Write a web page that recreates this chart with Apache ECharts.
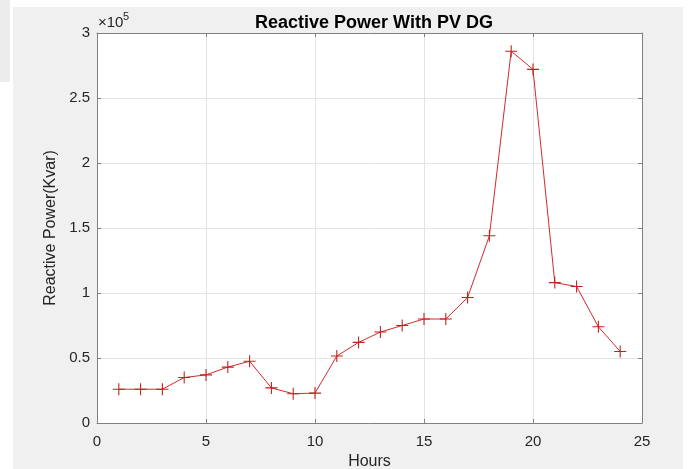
<!DOCTYPE html>
<html>
<head>
<meta charset="utf-8">
<script src="https://cdn.jsdelivr.net/npm/echarts@6/dist/echarts.min.js"></script>
<style>
html,body{margin:0;padding:0;background:#fff;}
#chart{width:691px;height:469px;}
</style>
</head>
<body>
<div id="chart"></div>
<script>
// Data
const hours = [1,2,3,4,5,6,7,8,9,10,11,12,13,14,15,16,17,18,19,20,21,22,23,24];
const reactivePower = [26000,26000,26000,35000,37000,43000,47500,27000,22500,23000,51500,62000,70000,75000,80000,80000,96500,144000,286000,272000,108000,105000,74000,55000];
const xTicks = [0,5,10,15,20,25];
const yTickLabels = ['0','0.5','1','1.5','2','2.5','3'];

const chart = echarts.init(document.getElementById('chart'));
const axisColor = '#808080';
const textColor = '#262626';
const fontFamily = 'Liberation Sans, Arial, sans-serif';
const plusPath = 'path://M-0.45,-5 L0.45,-5 L0.45,-0.45 L5,-0.45 L5,0.45 L0.45,0.45 L0.45,5 L-0.45,5 L-0.45,0.45 L-5,0.45 L-5,-0.45 L-0.45,-0.45 Z';

const option = {
  backgroundColor: '#fff',
  animation: false,
  graphic: [
    {type:'rect', z:-10, shape:{x:13,y:7,width:670,height:462}, style:{fill:'#f0f0f0'}},
    {type:'rect', z:-10, shape:{x:0,y:0,width:10,height:82}, style:{fill:'#ececec'}},
    {type:'text', x:98, y:30, style:{text:'\u00d710', fontSize:15, fontFamily:fontFamily, fill:textColor, textVerticalAlign:'bottom'}},
    {type:'text', x:123, y:22, style:{text:'5', fontSize:11, fontFamily:fontFamily, fill:textColor, textVerticalAlign:'bottom'}}
  ],
  title: {
    text: 'Reactive Power With PV DG',
    left: 369, top: 9, textAlign: 'center',
    textStyle: {fontSize: 18, fontWeight: 'bold', color: '#000', fontFamily: fontFamily}
  },
  grid: {left: 97, top: 33, right: 49, bottom: 46, show: true, backgroundColor: '#fff', borderWidth: 0,
    containLabel: false, outerBoundsMode: 'none'},
  xAxis: [
    {
      type: 'value', min: xTicks[0], max: xTicks[xTicks.length-1], interval: 5, position: 'bottom',
      name: 'Hours', nameLocation: 'middle', nameGap: 31,
      nameTextStyle: {fontSize: 16, color: textColor, fontFamily: fontFamily},
      axisLine: {show: true, onZero: false, lineStyle: {color: axisColor, width: 1}},
      axisTick: {show: true, inside: true, length: 4, lineStyle: {color: axisColor}},
      axisLabel: {fontSize: 15, color: textColor, margin: 11, fontFamily: fontFamily},
      splitLine: {show: true, lineStyle: {color: '#e3e3e3', width: 1}}
    },
    {
      type: 'value', min: 0, max: 25, interval: 5, position: 'top',
      axisLine: {show: true, onZero: false, lineStyle: {color: axisColor, width: 1}},
      axisTick: {show: true, inside: true, length: 4, lineStyle: {color: axisColor}},
      axisLabel: {show: false}, splitLine: {show: false}
    }
  ],
  yAxis: [
    {
      type: 'value', min: 0, max: 300000, interval: 50000, position: 'left',
      name: 'Reactive Power(Kvar)', nameLocation: 'middle', nameGap: 37,
      nameTextStyle: {fontSize: 16, color: textColor, fontFamily: fontFamily},
      axisLine: {show: true, onZero: false, lineStyle: {color: axisColor, width: 1}},
      axisTick: {show: true, inside: true, length: 4, lineStyle: {color: axisColor}},
      axisLabel: {fontSize: 15, color: textColor, margin: 7, fontFamily: fontFamily,
        formatter: function (v) { return yTickLabels[Math.round(v / 50000)]; }},
      splitLine: {show: true, lineStyle: {color: '#e3e3e3', width: 1}}
    },
    {
      type: 'value', min: 0, max: 300000, interval: 50000, position: 'right',
      axisLine: {show: true, onZero: false, lineStyle: {color: axisColor, width: 1}},
      axisTick: {show: true, inside: true, length: 4, lineStyle: {color: axisColor}},
      axisLabel: {show: false}, splitLine: {show: false}
    }
  ],
  series: [{
    type: 'line',
    xAxisIndex: 0, yAxisIndex: 0,
    data: hours.map((h, i) => [h, reactivePower[i]]),
    showAllSymbol: true,
    symbol: plusPath,
    symbolSize: 12,
    lineStyle: {color: '#d42a2a', width: 1},
    itemStyle: {color: '#c41e1e'}
  }]
};
chart.setOption(option);
</script>
</body>
</html>
